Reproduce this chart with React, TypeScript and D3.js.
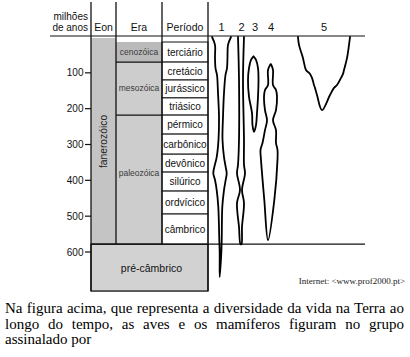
import React from "react";
import * as d3 from "d3";

// ---- data ----
const tickValues = [100, 200, 300, 400, 500, 600];
const periodNames = ["terciário", "cretácio", "jurássico", "triásico", "pérmico", "carbônico", "devônico", "silúrico", "ordvícico", "câmbrico"];
const periodBounds = [14, 70, 120, 170, 218, 271, 327, 377, 430, 494, 578];
const eraNames = ["cenozóica", "mesozóica", "paleozóica"];
const eraBounds = [14, 70, 218, 578];
const eraLabelAges = [42, 142, 379];
const eonName = "fanerozóico";
const precambrianName = "pré-câmbrico";
const precambrianEnd = 709;
const groupLabels = ["1", "2", "3", "4", "5"];
// [age (Ma), left half-width, right half-width]
const group1 = [[0, 9, 10], [22, 6, 7], [56, 6, 6.5], [87, 5.5, 6], [106, 4, 4.5], [156, 3, 3], [223, 2, 2], [287, 2.5, 1.5], [335, 4.3, 3], [363, 6.7, 4.7], [380, 7.7, 5.7], [399, 6, 4.7], [427, 4.3, 3], [474, 2.7, 1.3], [567, 1.7, 0.7], [603, 1.3, 0.3], [670, 1.3, -1.3]];
const group2 = [[0, 3, 3], [120, 2, 2], [287, 2, 3], [357, 3, 3], [380, 4, 4], [427, 1, 1], [463, 4, 3], [530, 2, 1], [578, 0.5, 0.5]];
const group3 = [[54, 0, 0], [64, 2.5, 2.5], [87, 4.5, 4.5], [120, 5.5, 5], [167, 4.5, 4.5], [212, 1.5, 3.5], [246, 1, 2.5], [265, -0.5, 0.5]];
const group4 = [[76, -0.5, 1], [92, 2, 3], [134, 2, 3], [148, 5, 6], [167, 6, 7], [204, 5, 6], [232, 3, 3], [260, 5, 6], [296, 7.5, 6], [315, 9.5, 7.5], [343, 9, 7.5], [455, 5.7, 4.3], [567, 2, -2]];
const group5 = [[0, 24, 28], [22, 23, 27], [59, 19, 25], [92, 16, 22], [103, 12, 21], [114, 10, 19], [134, 8, 15], [142, 7, 12], [162, 5, 8], [204, 0, 0]];
const groups = [group1, group2, group3, group4, group5];
const groupCenters = [221, 241, 253.5, 270, 322];
const groupLabelX = [221.5, 241.5, 255, 271, 324];
const paragraphLines = [
  "Na figura acima, que representa a diversidade da vida na Terra ao",
  "longo do tempo, as aves e os mamíferos figuram no grupo",
  "assinalado por",
];
const sourceText = "Internet: <www.prof2000.pt>";

const W = 410, H = 357;
const SANS = "'Liberation Sans', Arial, sans-serif";
const SERIF = "'Liberation Serif', 'Times New Roman', serif";

export default function App() {
  const y = d3.scaleLinear().domain([0, 600]).range([37, 252]);
  const w = d3.scaleLinear().domain([0, 1]).range([0, 1]);
  const xEonL = 91, xEonR = 116, xEraR = 162, xPerR = 208, xRight = 365;
  const yHead = 36;
  const yBase = y(eraBounds[eraBounds.length - 1]);
  const yPreEnd = y(precambrianEnd);
  const line = d3.line().curve(d3.curveCatmullRom.alpha(0.5));

  const spindlePath = (pts: number[][], cx: number) => {
    const left = pts.map((p) => [cx - w(p[1]), y(p[0])]);
    const right = pts.map((p) => [cx + w(p[2]), y(p[0])]).reverse();
    const all = [...left, ...right];
    const out: number[][] = [];
    for (const p of all) {
      const q = out[out.length - 1];
      if (q && Math.abs(q[0] - p[0]) < 0.01 && Math.abs(q[1] - p[1]) < 0.01) continue;
      out.push(p);
    }
    return line(out as any) || "";
  };

  return (
    <div style={{ position: "absolute", left: 0, top: 0, width: W, height: H, background: "#fff", overflow: "hidden" }}>
      <svg width={W} height={H} style={{ position: "absolute", left: 0, top: 0 }}>
        {/* eon fill */}
        <rect x={xEonL} y={y(0) + 1} width={xEonR - xEonL} height={yBase - y(0) - 1} fill="#c4c4c4" />
        {/* era fills */}
        {eraNames.map((n, i) => (
          <rect key={n} x={xEonR} y={y(eraBounds[i])} width={xEraR - xEonR} height={y(eraBounds[i + 1]) - y(eraBounds[i])} fill={i === 0 ? "#bababa" : "#cdcdcd"} />
        ))}
        {/* precambrian */}
        <rect x={xEonL} y={yBase} width={xPerR - xEonL} height={yPreEnd - yBase} fill="#d2d2d2" stroke="#111" strokeWidth={1.3} />
        {/* period boxes */}
        {periodNames.map((n, i) => (
          <g key={n}>
            <rect x={xEraR} y={y(periodBounds[i])} width={xPerR - xEraR} height={y(periodBounds[i + 1]) - y(periodBounds[i])} fill="#fff" stroke="#111" strokeWidth={1} />
            <text x={(xEraR + xPerR) / 2} y={(y(periodBounds[i]) + y(periodBounds[i + 1])) / 2 + 3.5} textAnchor="middle" fontFamily={SANS} fontSize={10} fill="#111">{n}</text>
          </g>
        ))}
        {/* era separators */}
        {eraBounds.slice(1, -1).map((b) => (
          <line key={b} x1={xEonR} x2={xEraR} y1={y(b)} y2={y(b)} stroke="#111" strokeWidth={1.2} />
        ))}
        {eraNames.map((n, i) => (
          <text key={n} x={(xEonR + xEraR) / 2} y={y(eraLabelAges[i]) + 3} textAnchor="middle" fontFamily={SANS} fontSize={8.5} fill="#3a3a3a">{n}</text>
        ))}
        {/* eon label */}
        <text transform={`translate(${(xEonL + xEonR) / 2 + 3.5},${141.5}) rotate(-90)`} textAnchor="middle" fontFamily={SANS} fontSize={10.3} fill="#222">{eonName}</text>
        <text x={(xEonL + xPerR) / 2 + 2} y={(yBase + yPreEnd) / 2 + 4} textAnchor="middle" fontFamily={SANS} fontSize={10.5} fill="#111">{precambrianName}</text>
        {/* vertical lines */}
        <line x1={xEonL} x2={xEonL} y1={2} y2={yPreEnd} stroke="#111" strokeWidth={1.3} />
        <line x1={xEonR} x2={xEonR} y1={2} y2={yBase} stroke="#111" strokeWidth={1.3} />
        <line x1={xEraR} x2={xEraR} y1={2} y2={yBase} stroke="#111" strokeWidth={1.3} />
        <line x1={xPerR} x2={xPerR} y1={2} y2={yPreEnd} stroke="#111" strokeWidth={1.3} />
        {/* header and base lines */}
        <line x1={50} x2={xRight} y1={yHead} y2={yHead} stroke="#111" strokeWidth={1.2} />
        <line x1={xEonL} x2={xRight} y1={yBase} y2={yBase} stroke="#111" strokeWidth={1.3} />
        {/* headers */}
        <text x={88} y={19.5} textAnchor="end" fontFamily={SANS} fontSize={10} fill="#111">milhões</text>
        <text x={88} y={30.5} textAnchor="end" fontFamily={SANS} fontSize={10} fill="#111">de anos</text>
        <text x={(xEonL + xEonR) / 2} y={31} textAnchor="middle" fontFamily={SANS} fontSize={10.5} fill="#111">Eon</text>
        <text x={(xEonR + xEraR) / 2} y={31} textAnchor="middle" fontFamily={SANS} fontSize={10.5} fill="#111">Era</text>
        <text x={(xEraR + xPerR) / 2} y={31} textAnchor="middle" fontFamily={SANS} fontSize={10.5} fill="#111">Período</text>
        {/* ticks */}
        {tickValues.map((t) => (
          <g key={t}>
            <line x1={85} x2={xEonL} y1={y(t)} y2={y(t)} stroke="#111" strokeWidth={1.2} />
            <text x={83.5} y={y(t) + 3.5} textAnchor="end" fontFamily={SANS} fontSize={10} fill="#111">{t}</text>
          </g>
        ))}
        {/* group labels */}
        {groupLabels.map((g, i) => (
          <text key={g} x={groupLabelX[i]} y={31} textAnchor="middle" fontFamily={SANS} fontSize={11} fill="#111">{g}</text>
        ))}
        {/* spindles */}
        {groups.map((g, i) => (
          <path key={i} d={spindlePath(g, groupCenters[i])} fill="none" stroke="#000" strokeWidth={1.8} strokeLinejoin="round" strokeLinecap="round" />
        ))}
        <text x={405} y={284} textAnchor="end" fontFamily={SERIF} fontSize={9} fill="#222">{sourceText}</text>
      </svg>
      <div style={{ position: "absolute", left: 5, top: 301, width: 399, fontFamily: SERIF, fontSize: 15, lineHeight: "15.5px", color: "#000" }}>
        {paragraphLines.map((l, i) => (
          <div key={i} style={{ textAlign: i < 2 ? "justify" : "left", textAlignLast: i < 2 ? "justify" : "left" } as any}>{l}</div>
        ))}
      </div>
    </div>
  );
}
